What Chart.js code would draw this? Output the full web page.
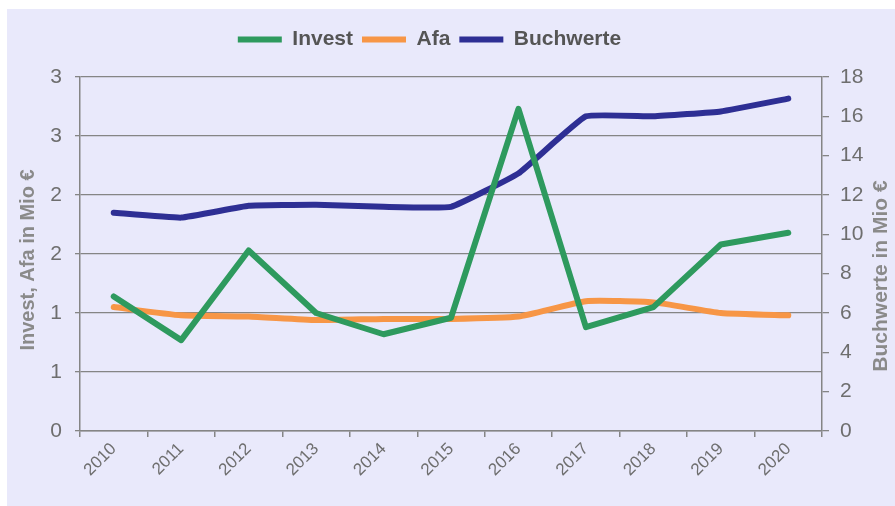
<!DOCTYPE html>
<html>
<head>
<meta charset="utf-8">
<script src="https://cdn.jsdelivr.net/npm/chart.js@4"></script>
<style>
  html, body { margin: 0; padding: 0; background: #fff; }
  #panel {
    position: absolute; left: 7px; top: 9px; right: 0; bottom: 0;
    background: #e9e9fb;
  }
  #wrap { position: absolute; left: 0; top: 0; width: 895px; height: 506px; }
</style>
</head>
<body>
<div id="panel"></div>
<div id="wrap"><canvas id="chart"></canvas></div>
<script>
const years = ["2010", "2011", "2012", "2013", "2014", "2015", "2016", "2017", "2018", "2019", "2020"];
const invest = [1.14, 0.77, 1.53, 1.0, 0.82, 0.96, 2.73, 0.88, 1.05, 1.58, 1.68];
const afa = [1.05, 0.98, 0.97, 0.94, 0.95, 0.95, 0.97, 1.10, 1.09, 1.0, 0.98];
const buchwerte = [11.1, 10.85, 11.45, 11.5, 11.4, 11.4, 13.1, 16.0, 16.0, 16.25, 16.9];
// linke Achse läuft in 0,5er-Schritten, Beschriftung ohne Nachkommastellen
const leftTickLabels = ["0", "1", "1", "2", "2", "3", "3"];
const leftTitle = "Invest, Afa in Mio €";
const rightTitle = "Buchwerte in Mio €";

const tickColor = "#6e6e6e";
const titleColor = "#8a8a8a";
const lineColor = "#858585";
const fontFamily = "'Liberation Sans', Arial, sans-serif";

// Legende bekommt etwas Luft nach unten und sitzt leicht links der Mitte
const legendSpacing = {
  id: "legendSpacing",
  beforeInit(chart) {
    const fit = chart.legend.fit;
    chart.legend.fit = function () {
      fit.bind(chart.legend)();
      this.height = 57;
    };
  },
  afterLayout(chart) {
    chart.legend.right -= 36;
  },
};

// beide Achsentitel von unten nach oben lesbar
const axisTitles = {
  id: "axisTitles",
  afterDraw(chart) {
    const { ctx, chartArea } = chart;
    const mid = (chartArea.top + chartArea.bottom) / 2;
    const items = [
      [chartArea.left - 52, mid + 6, leftTitle, 20],
      [chartArea.right + 59, mid + 22, rightTitle, 21],
    ];
    ctx.save();
    ctx.fillStyle = titleColor;
    ctx.textAlign = "center";
    ctx.textBaseline = "middle";
    items.forEach(([x, y, text, size]) => {
      ctx.save();
      ctx.font = `bold ${size}px ${fontFamily}`;
      ctx.translate(x, y);
      ctx.rotate(-Math.PI / 2);
      ctx.fillText(text, 0, 0);
      ctx.restore();
    });
    ctx.restore();
  },
};

new Chart(document.getElementById("chart"), {
  type: "line",
  data: {
    labels: years,
    datasets: [
      {
        label: "Invest",
        data: invest,
        yAxisID: "y",
        borderColor: "#2e9a5e",
        backgroundColor: "#2e9a5e",
        borderWidth: 6,
        tension: 0,
      },
      {
        label: "Afa",
        data: afa,
        yAxisID: "y",
        borderColor: "#f79646",
        backgroundColor: "#f79646",
        borderWidth: 6,
        tension: 0.15,
      },
      {
        label: "Buchwerte",
        data: buchwerte,
        yAxisID: "y1",
        borderColor: "#2e2f94",
        backgroundColor: "#2e2f94",
        borderWidth: 6,
        tension: 0.1,
      },
    ],
  },
  options: {
    responsive: true,
    maintainAspectRatio: false,
    animation: false,
    layout: { padding: { top: 20, left: 0, right: 0, bottom: 0 } },
    elements: {
      point: { radius: 0, hoverRadius: 0 },
      line: { borderCapStyle: "round", borderJoinStyle: "round" },
    },
    plugins: {
      tooltip: { enabled: false },
      legend: {
        position: "top",
        labels: {
          boxWidth: 44,
          boxHeight: 6,
          useBorderRadius: true,
          borderRadius: 3,
          color: "#555",
          padding: 9,
          font: { family: fontFamily, size: 21, weight: "bold" },
          generateLabels: (chart) =>
            chart.data.datasets.map((ds, i) => ({
              text: ds.label,
              fillStyle: ds.borderColor,
              strokeStyle: ds.borderColor,
              lineWidth: 0,
              datasetIndex: i,
              fontColor: "#555",
            })),
        },
      },
    },
    scales: {
      x: {
        offset: true,
        afterFit: (scale) => { scale.height = 75; },
        grid: {
          offset: true,
          drawOnChartArea: false,
          drawTicks: true,
          tickLength: 6,
          color: lineColor,
          lineWidth: 1.5,
        },
        border: { display: true, color: lineColor, width: 1.5 },
        ticks: {
          maxRotation: 45,
          minRotation: 45,
          padding: 2,
          color: tickColor,
          font: { family: fontFamily, size: 17 },
        },
      },
      y: {
        position: "left",
        min: 0,
        max: 3,
        afterFit: (scale) => { scale.width = 80; },
        ticks: {
          stepSize: 0.5,
          padding: 13,
          color: tickColor,
          font: { family: fontFamily, size: 21 },
          callback: (value, index) => leftTickLabels[index],
        },
        grid: { color: lineColor, lineWidth: 1.3, tickLength: 5 },
        border: { display: true, color: lineColor, width: 1.5 },
      },
      y1: {
        position: "right",
        min: 0,
        max: 18,
        afterFit: (scale) => { scale.width = 73; },
        ticks: {
          stepSize: 2,
          padding: 11,
          color: tickColor,
          font: { family: fontFamily, size: 21 },
        },
        grid: { drawOnChartArea: false, color: lineColor, lineWidth: 1.3, tickLength: 7 },
        border: { display: true, color: lineColor, width: 1.5 },
      },
    },
  },
  plugins: [legendSpacing, axisTitles],
});
</script>
</body>
</html>
